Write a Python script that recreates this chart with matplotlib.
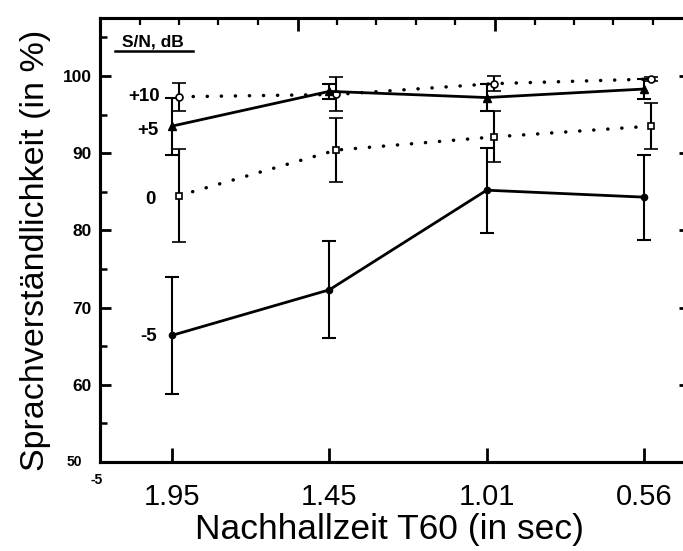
import matplotlib
matplotlib.use("Agg")
import matplotlib.pyplot as plt
import numpy as np
from matplotlib.ticker import MultipleLocator, FixedLocator

# ---- data ----
t60_labels = ["1.95", "1.45", "1.01", "0.56"]
snr_labels = ["+10", "+5", "0", "-5"]

snr_p10 = [97.3, 97.6, 99.0, 99.6]
err_p10 = [1.8, 2.2, 1.0, 0.3]

snr_p5 = [93.5, 98.0, 97.2, 98.3]
err_p5 = [3.7, 1.0, 1.7, 1.25]

snr_0 = [84.5, 90.4, 92.1, 93.5]
err_0 = [6.0, 4.1, 3.3, 3.0]

snr_m5 = [66.4, 72.3, 85.2, 84.3]
err_m5 = [7.6, 6.3, 5.5, 5.5]

# ---- figure ----
W, H = 683, 551
fig = plt.figure(figsize=(W / 100, H / 100), dpi=100)
ax = fig.add_axes([100 / W, 1 - 462 / H, 590 / W, 444 / H])

FONT = "Liberation Sans"
x = np.arange(1, len(t60_labels) + 1)
shift = 0.045  # small horizontal offset of the dotted series, as in the original

dotted = dict(linestyle=(0, (0.05, 4.0)), dash_capstyle="round", lw=2.5)
solid = dict(linestyle="-", lw=2.0)
ebkw = dict(ecolor="black", elinewidth=1.5, capsize=5, capthick=1.5)

ax.errorbar(x + shift, snr_p10, yerr=err_p10, color="black", marker="o", ms=5,
            mfc="white", mec="black", mew=1.2, **dotted, **ebkw, zorder=3)
ax.errorbar(x, snr_p5, yerr=err_p5, color="black", marker="^", ms=6,
            mfc="black", mec="black", **solid, **ebkw, zorder=3)
ax.errorbar(x + shift, snr_0, yerr=err_0, color="black", marker="s", ms=4.5,
            mfc="white", mec="black", mew=1.2, **dotted, **ebkw, zorder=3)
ax.errorbar(x, snr_m5, yerr=err_m5, color="black", marker="o", ms=4.5,
            mfc="black", mec="black", **solid, **ebkw, zorder=3)

# series labels next to the first points
lab_kw = dict(textcoords="offset points", ha="right", va="center",
              fontsize=13.5, fontweight="bold", family=FONT)
ax.annotate(snr_labels[0], (x[0] + shift, snr_p10[0]), xytext=(-14, 0), **lab_kw)
ax.annotate(snr_labels[1], (x[0], snr_p5[0]), xytext=(-10, -3), **lab_kw)
ax.annotate(snr_labels[2], (x[0] + shift, snr_0[0]), xytext=(-17, -3), **lab_kw)
ax.annotate(snr_labels[3], (x[0], snr_m5[0]), xytext=(-11, -1), **lab_kw)

# header
ax.text(0.090, 0.946, "S/N, dB", transform=ax.transAxes, fontsize=12.5,
        fontweight="bold", family=FONT, ha="center", va="center")
ax.plot([0.025, 0.158], [0.926, 0.926], transform=ax.transAxes, color="black",
        lw=1.8, clip_on=False)

# axes ranges
ax.set_xlim(1 - 72 / 157.3, 4 + 46 / 157.3)
ax.set_ylim(50, 107.5)

ax.set_xticks(x)
ax.set_xticklabels(t60_labels, fontsize=21, family=FONT)
ax.set_yticks([60, 70, 80, 90, 100])
ax.set_yticklabels(["60", "70", "80", "90", "100"], fontsize=12.5,
                   fontweight="bold", family=FONT)
ax.yaxis.set_minor_locator(FixedLocator([55, 65, 75, 85, 95, 105]))

ax.tick_params(axis="x", which="major", direction="in", length=10, width=2,
               pad=15, bottom=True, top=False)
ax.tick_params(axis="y", which="major", direction="in", length=8, width=2,
               pad=6, left=True, right=True)
ax.tick_params(axis="y", which="minor", direction="in", length=5, width=1.8,
               left=True, right=False)

# top axis with its own small ticks
ax2 = ax.twiny()
ax2.set_xlim(0, 590 / 39.5)
ax2.xaxis.set_major_locator(MultipleLocator(5))
ax2.xaxis.set_minor_locator(MultipleLocator(1))
ax2.tick_params(axis="x", which="major", direction="in", length=9, width=2,
                labeltop=False, top=True)
ax2.tick_params(axis="x", which="minor", direction="in", length=5, width=1.6,
                top=True)

for a in (ax, ax2):
    for s in a.spines.values():
        s.set_linewidth(2.2)

# small extra labels at the origin
ax.text(-0.030, 50, "50", fontsize=10, fontweight="bold", family=FONT,
        ha="right", va="center", transform=ax.get_yaxis_transform())
ax.text(-0.005, -0.04, "-5", fontsize=10, fontweight="bold", family=FONT,
        ha="center", va="center", transform=ax.transAxes)

ax.set_xlabel("Nachhallzeit T60 (in sec)", fontsize=25.5, family=FONT, va="center")
ax.xaxis.set_label_coords(0.4915, -0.153)
ax.set_ylabel("Sprachverständlichkeit (in %)", fontsize=24.5, family=FONT, va="center")
ax.yaxis.set_label_coords(-0.110, 0.477)

fig.savefig("out.png", dpi=100)
